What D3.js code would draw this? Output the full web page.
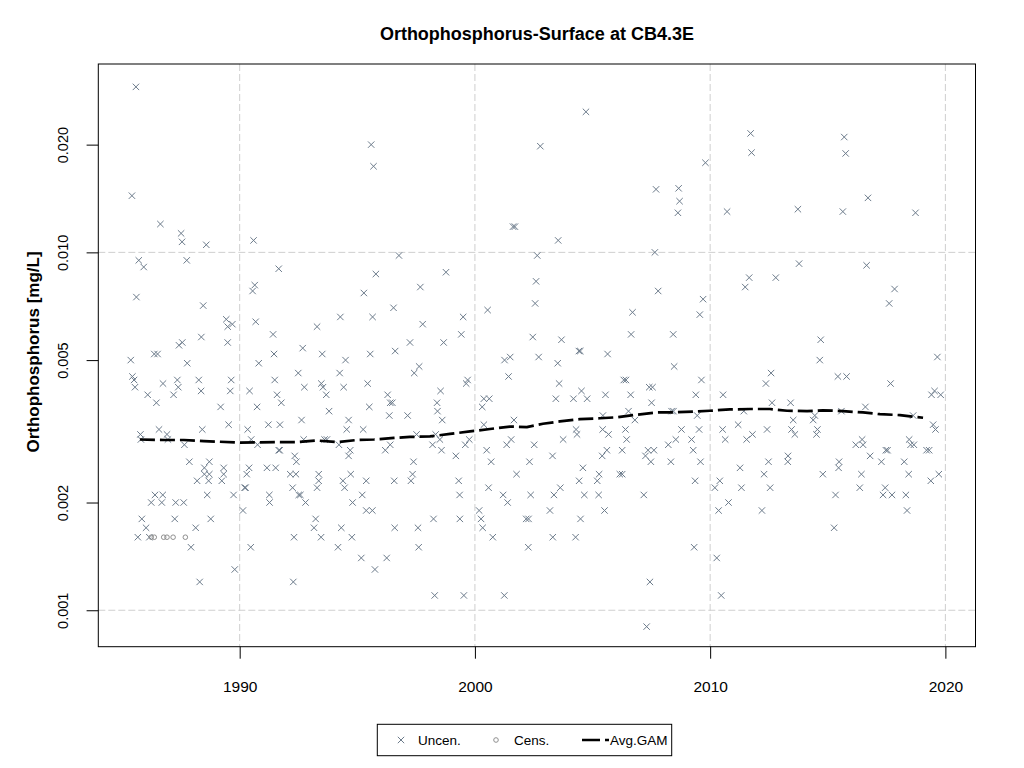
<!DOCTYPE html>
<html>
<head>
<meta charset="utf-8">
<script src="https://cdn.jsdelivr.net/npm/d3@7"></script>
<style>
  body { margin: 0; background: #fff; }
  svg { display: block; font-family: "Liberation Sans", Arial, sans-serif; }
</style>
</head>
<body>
<svg id="chart" width="1024" height="768"></svg>
<script>
// uncensored samples: [decimal year, mg/L]
const uncensored = [
  [1985.59, 0.029], [1995.59, 0.020], [1995.69, 0.0174], [1985.42, 0.0144], [1986.63, 0.012],
  [1987.51, 0.0113], [1987.55, 0.0107], [1988.58, 0.0105], [1990.59, 0.0108], [1985.71, 0.0095],
  [1985.92, 0.0091], [1987.75, 0.0095], [1991.66, 0.0090], [1995.79, 0.0087], [1985.61, 0.0075],
  [1990.64, 0.0081], [1990.55, 0.0078], [1995.28, 0.0077], [1996.54, 0.0070], [1988.45, 0.0071],
  [1989.43, 0.0065], [1989.69, 0.0063], [1989.49, 0.0062], [1990.68, 0.0064], [1994.28, 0.0066],
  [1995.65, 0.0066], [1993.29, 0.0062], [1991.42, 0.0059], [1988.37, 0.0058], [1987.56, 0.0056],
  [1987.42, 0.0055], [1989.49, 0.0056], [1992.68, 0.0054], [1986.37, 0.0052], [1986.51, 0.0052],
  [1991.46, 0.0052], [1993.51, 0.0052], [1995.55, 0.0052], [1985.37, 0.0050], [1994.50, 0.0050],
  [1996.61, 0.0053],
  [1987.77, 0.0049], [1990.81, 0.0049], [1985.44, 0.0045], [1985.51, 0.0044], [1985.55, 0.0042],
  [1986.09, 0.0040], [1986.46, 0.0038], [1986.74, 0.0043], [1987.35, 0.0044], [1987.39, 0.0042],
  [1987.19, 0.0040], [1988.26, 0.0044], [1988.36, 0.0041], [1989.64, 0.0044], [1989.60, 0.0041],
  [1989.19, 0.0037], [1990.42, 0.0041], [1990.74, 0.0037], [1991.49, 0.0044], [1991.59, 0.0040],
  [1991.77, 0.0038], [1992.49, 0.0046], [1992.75, 0.0042], [1993.47, 0.0043], [1993.54, 0.0042],
  [1993.68, 0.0040], [1994.25, 0.0046], [1994.42, 0.0042], [1993.80, 0.0036], [1995.44, 0.0043],
  [1995.51, 0.0037], [1996.29, 0.0040], [1996.40, 0.0038], [1996.49, 0.0038], [1996.36, 0.0035],
  [1992.63, 0.0034], [1994.63, 0.0034], [1994.55, 0.0032], [1995.25, 0.0032], [1991.22, 0.0033],
  [1991.71, 0.0033], [1990.34, 0.0032], [1989.53, 0.0033], [1988.41, 0.0032], [1986.57, 0.0032],
  [1986.91, 0.0031], [1986.95, 0.0030], [1985.78, 0.0031], [1985.80, 0.0030], [1987.65, 0.0029],
  [1990.49, 0.0030], [1990.76, 0.0029], [1991.66, 0.0028], [1991.70, 0.0028], [1992.72, 0.0030],
  [1993.61, 0.0030], [1993.71, 0.0030], [1994.22, 0.0029], [1994.70, 0.0028], [1994.63, 0.0027],
  [1992.34, 0.0027], [1992.41, 0.0026], [1996.19, 0.0028], [1996.40, 0.0029], [1987.86, 0.0026],
  [1988.71, 0.0026], [1988.50, 0.0025], [1989.32, 0.0025], [1991.16, 0.0025], [1991.53, 0.0025],
  [1990.40, 0.0025], [1990.30, 0.0024], [1988.50, 0.0024], [1988.71, 0.0024], [1989.32, 0.0024],
  [1992.15, 0.0024], [1992.39, 0.0024], [1993.36, 0.0024], [1994.72, 0.0024], [1988.19, 0.0023],
  [1988.68, 0.0023], [1989.24, 0.0023], [1993.36, 0.0023], [1994.39, 0.0023], [1995.38, 0.0023],
  [1996.57, 0.0023], [1990.21, 0.0022], [1990.25, 0.0022], [1992.25, 0.0022], [1993.29, 0.0022],
  [1994.46, 0.0022], [1986.40, 0.0021], [1986.73, 0.0021], [1988.62, 0.0021], [1989.74, 0.0021],
  [1991.26, 0.0021], [1992.51, 0.0021], [1992.58, 0.0021], [1995.21, 0.0021], [1986.24, 0.0020],
  [1986.69, 0.0020], [1987.28, 0.0020], [1987.62, 0.0020], [1991.27, 0.0020], [1992.80, 0.0020],
  [1994.80, 0.0020], [1990.14, 0.0019], [1995.38, 0.0019], [1995.64, 0.0019], [1985.84, 0.0018],
  [1987.24, 0.0018], [1988.77, 0.0018], [1993.23, 0.0018], [1986.02, 0.0017], [1988.13, 0.0017],
  [1993.16, 0.0017], [1994.32, 0.0017], [1996.59, 0.0017], [1985.67, 0.0016], [1986.16, 0.0016],
  [1992.31, 0.0016], [1993.46, 0.0016], [1994.77, 0.0016], [1987.93, 0.0015], [1990.47, 0.0015],
  [1994.18, 0.0015], [1995.17, 0.0014], [1996.25, 0.0014], [1995.75, 0.0013], [1989.79, 0.0013],
  [1988.30, 0.0012], [1992.28, 0.0012],
  [1996.77, 0.0098], [2004.72, 0.0247], [2002.78, 0.0198], [2007.70, 0.0150], [2001.62, 0.0118],
  [2001.70, 0.0118], [2003.54, 0.0108], [2007.65, 0.0100], [2002.65, 0.0098], [1998.77, 0.0088],
  [1997.68, 0.0080], [2002.60, 0.0083], [2002.56, 0.0072], [2000.54, 0.0069], [2007.79, 0.0078],
  [2006.70, 0.0068], [2006.64, 0.0059], [1999.50, 0.0066], [1997.78, 0.0063], [1999.42, 0.0059],
  [1997.24, 0.0056], [1998.67, 0.0056], [2002.46, 0.0058], [2003.68, 0.0057], [2004.42, 0.0053],
  [2004.48, 0.0053], [2005.64, 0.0052], [2002.71, 0.0051], [2001.26, 0.0050], [2001.50, 0.0051],
  [2003.52, 0.0049], [1997.63, 0.0048], [1997.42, 0.0046], [1999.69, 0.0044], [1999.63, 0.0043],
  [2001.43, 0.0045], [2003.58, 0.0043], [1998.54, 0.0041], [1997.14, 0.0035], [1998.39, 0.0038],
  [1998.41, 0.0036], [1998.61, 0.0034], [2000.38, 0.0039], [2000.61, 0.0039], [2000.31, 0.0037],
  [2003.44, 0.0039], [2004.19, 0.0039], [2004.77, 0.0039], [2004.53, 0.0041], [2005.55, 0.0040],
  [2006.33, 0.0044], [2006.42, 0.0044], [2006.62, 0.0040], [2007.41, 0.0042], [2007.55, 0.0042],
  [2007.51, 0.0038], [2006.53, 0.0036], [2006.80, 0.0034], [2005.44, 0.0035], [2001.66, 0.0034],
  [2000.38, 0.0033], [1997.52, 0.0031], [1998.33, 0.0031], [1998.51, 0.0030], [1998.20, 0.0029],
  [1998.58, 0.0028], [1999.76, 0.0030], [1999.59, 0.0029], [1999.19, 0.0027], [1997.39, 0.0026],
  [1997.35, 0.0024], [1997.28, 0.0023], [1999.31, 0.0023], [1999.35, 0.0021], [1998.24, 0.0018],
  [1999.36, 0.0018], [1997.58, 0.0017], [1997.61, 0.0015], [1998.29, 0.0011], [1999.53, 0.0011],
  [2001.25, 0.0011], [2000.50, 0.0028], [2000.69, 0.0026], [2001.35, 0.0029], [2001.54, 0.0030],
  [2002.52, 0.0029], [2002.32, 0.0026], [2001.77, 0.0024], [2003.30, 0.0027], [2003.75, 0.0030],
  [2004.30, 0.0032], [2004.34, 0.0031], [2005.43, 0.0032], [2005.68, 0.0031], [2006.40, 0.0032],
  [2006.45, 0.0030], [2005.41, 0.0027], [2005.61, 0.0028], [2006.26, 0.0028], [2007.25, 0.0027],
  [2007.36, 0.0028], [2007.61, 0.0028], [2007.48, 0.0026], [2008.22, 0.0029], [2004.59, 0.0025],
  [2005.28, 0.0024], [2005.20, 0.0023], [2004.43, 0.0023], [2006.16, 0.0024], [2006.26, 0.0024],
  [2000.58, 0.0022], [2001.20, 0.0021], [2001.39, 0.0020], [2002.37, 0.0021], [2003.36, 0.0021],
  [2003.63, 0.0022], [2004.65, 0.0021], [2005.26, 0.0021], [2007.18, 0.0021], [2000.18, 0.0019],
  [2000.26, 0.0018], [2000.33, 0.0017], [2000.76, 0.0016], [2003.19, 0.0019], [2002.18, 0.0018],
  [2002.28, 0.0018], [2004.49, 0.0018], [2005.51, 0.0019], [2003.31, 0.0016], [2004.28, 0.0016],
  [2002.27, 0.0015], [2007.44, 0.0012], [2007.30, 0.0009],
  [2011.72, 0.0215], [2011.76, 0.0190], [2015.70, 0.0210], [2015.76, 0.0189], [2009.80, 0.0178],
  [2008.66, 0.0151], [2008.70, 0.0139], [2008.63, 0.0129], [2010.72, 0.0130], [2013.73, 0.0132],
  [2015.64, 0.0130], [2016.71, 0.0142], [2018.73, 0.0129], [2013.78, 0.0093], [2016.65, 0.0092],
  [2011.66, 0.0085], [2012.79, 0.0085], [2011.49, 0.0080], [2017.84, 0.0079], [2017.61, 0.0072],
  [2009.70, 0.0074], [2009.56, 0.0067], [2008.43, 0.0059], [2014.70, 0.0057], [2014.66, 0.0050],
  [2019.66, 0.0051],
  [2008.47, 0.0048], [2009.63, 0.0044], [2009.39, 0.0040], [2010.55, 0.0040], [2012.59, 0.0046],
  [2012.37, 0.0043], [2015.43, 0.0045], [2015.80, 0.0045], [2017.67, 0.0043], [2012.63, 0.0038],
  [2013.42, 0.0038], [2019.41, 0.0040], [2019.54, 0.0041], [2019.80, 0.0040], [2008.36, 0.0036],
  [2008.44, 0.0036], [2009.45, 0.0035], [2011.43, 0.0036], [2013.53, 0.0034], [2014.38, 0.0034],
  [2014.45, 0.0035], [2015.58, 0.0036], [2016.60, 0.0037], [2018.63, 0.0035], [2019.48, 0.0033],
  [2019.58, 0.0032], [2008.78, 0.0032], [2008.54, 0.0030], [2009.21, 0.0030], [2009.28, 0.0028],
  [2009.53, 0.0032], [2008.33, 0.0026], [2009.59, 0.0026], [2010.53, 0.0032], [2010.64, 0.0030],
  [2011.19, 0.0033], [2011.55, 0.0030], [2011.80, 0.0031], [2012.42, 0.0032], [2013.46, 0.0032],
  [2013.60, 0.0031], [2014.56, 0.0032], [2014.52, 0.0031], [2016.19, 0.0029], [2016.46, 0.0030],
  [2016.50, 0.0029], [2016.80, 0.0027], [2017.47, 0.0028], [2017.54, 0.0028], [2018.46, 0.0030],
  [2018.52, 0.0029], [2018.66, 0.0029], [2019.20, 0.0028], [2019.31, 0.0028], [2012.48, 0.0026],
  [2013.31, 0.0027], [2013.30, 0.0026], [2011.27, 0.0025], [2012.29, 0.0024], [2015.48, 0.0026],
  [2015.46, 0.0025], [2014.79, 0.0024], [2016.43, 0.0024], [2017.28, 0.0026], [2018.25, 0.0026],
  [2018.44, 0.0024], [2019.38, 0.0023], [2019.72, 0.0024], [2009.36, 0.0023], [2010.20, 0.0022],
  [2010.41, 0.0023], [2011.33, 0.0022], [2012.55, 0.0022], [2016.36, 0.0022], [2017.44, 0.0022],
  [2017.35, 0.0021], [2017.73, 0.0021], [2018.32, 0.0021], [2015.33, 0.0021], [2010.36, 0.0019],
  [2010.78, 0.0020], [2012.20, 0.0019], [2018.37, 0.0019], [2015.27, 0.0017], [2009.32, 0.0015],
  [2010.28, 0.0014], [2010.47, 0.0011]
];

// censored samples (below detection limit)
const censored = [
  [1986.24, 0.0016], [1986.37, 0.0016], [1986.77, 0.0016], [1986.91, 0.0016], [1987.17, 0.0016], [1987.69, 0.0016]
];

// averaged GAM fit
const gamYears = [1985.76, 1986.78, 1987.63, 1988.48, 1990.01, 1991.59, 1992.44, 1993.29, 1994.14, 1994.99,
  1995.71, 1996.56, 1997.24, 1998.09, 1998.94, 1999.79, 2000.64, 2001.49, 2002.21, 2002.89,
  2003.61, 2004.46, 2005.31, 2006.04, 2006.89, 2007.74, 2008.29, 2009.27, 2009.99, 2010.84,
  2011.69, 2012.54, 2013.27, 2014.12, 2014.80, 2015.65, 2016.50, 2017.22, 2018.07, 2019.05];
const gamValues = [0.00300, 0.00299, 0.00299, 0.00297, 0.00294, 0.00295, 0.00295, 0.00298, 0.00295, 0.00299,
  0.00300, 0.00303, 0.00305, 0.00306, 0.00311, 0.00316, 0.00321, 0.00326, 0.00325, 0.00332,
  0.00337, 0.00342, 0.00344, 0.00346, 0.00352, 0.00357, 0.00357, 0.00359, 0.00361, 0.00364,
  0.00365, 0.00365, 0.00361, 0.00360, 0.00362, 0.00360, 0.00357, 0.00353, 0.00351, 0.00345];

const xTicks = [1990, 2000, 2010, 2020];
const yTicks = [0.001, 0.002, 0.005, 0.010, 0.020];
const xGrid = [1990, 2000, 2010, 2020];
const yGrid = [0.001, 0.010];

const svg = d3.select("#chart");
const plot = { left: 98.3, right: 975.5, top: 64, bottom: 646.7 };

const x = d3.scaleLinear().domain([1983.99, 2021.28]).range([plot.left, plot.right]);
const y = d3.scaleLog().domain([0.000791, 0.0336]).range([plot.bottom, plot.top]);

const ptColor = "#6c7b8b";
const gridColor = "#cfcfcf";

// grid
svg.append("g").selectAll("line").data(xGrid).join("line")
  .attr("x1", d => x(d)).attr("x2", d => x(d))
  .attr("y1", plot.top).attr("y2", plot.bottom)
  .attr("stroke", gridColor).attr("stroke-dasharray", "7,3");
svg.append("g").selectAll("line").data(yGrid).join("line")
  .attr("x1", plot.left).attr("x2", plot.right)
  .attr("y1", d => y(d)).attr("y2", d => y(d))
  .attr("stroke", gridColor).attr("stroke-dasharray", "7,3");

// uncensored crosses
const s = 3.2;
svg.append("g").selectAll("path").data(uncensored).join("path")
  .attr("d", d => {
    const px = x(d[0]), py = y(d[1]);
    return `M${px - s},${py - s}L${px + s},${py + s}M${px - s},${py + s}L${px + s},${py - s}`;
  })
  .attr("stroke", ptColor).attr("stroke-width", 1).attr("fill", "none");

// censored circles
svg.append("g").selectAll("circle").data(censored).join("circle")
  .attr("cx", d => x(d[0])).attr("cy", d => y(d[1])).attr("r", 2.3)
  .attr("fill", "none").attr("stroke", "#8f8f8f").attr("stroke-width", 1);

// GAM line
const line = d3.line().x((d, i) => x(gamYears[i])).y(d => y(d));
svg.append("path").datum(gamValues)
  .attr("d", line)
  .attr("fill", "none").attr("stroke", "#000").attr("stroke-width", 2.7)
  .attr("stroke-dasharray", "15,5");

// axes
const xAxis = svg.append("g")
  .attr("transform", `translate(0,${plot.bottom})`)
  .call(d3.axisBottom(x).tickValues(xTicks).tickFormat(d3.format("d")).tickSize(12).tickSizeOuter(0));
xAxis.select(".domain").remove();
xAxis.selectAll("text").attr("y", 45.3).attr("dy", 0)
  .attr("font-size", "15.5px").attr("fill", "#000")
  .attr("font-family", '"Liberation Sans", Arial, sans-serif');

const yAxis = svg.append("g")
  .attr("transform", `translate(${plot.left},0)`)
  .call(d3.axisLeft(y).tickValues(yTicks).tickFormat(d3.format(".3f")).tickSize(11.7).tickSizeOuter(0));
yAxis.select(".domain").remove();
yAxis.selectAll("text")
  .attr("transform", "rotate(-90)")
  .attr("x", 0).attr("y", -30.6).attr("dy", 0)
  .attr("text-anchor", "middle")
  .attr("font-size", "14.5px").attr("fill", "#000")
  .attr("font-family", '"Liberation Sans", Arial, sans-serif');

// box
svg.append("rect")
  .attr("x", plot.left).attr("y", plot.top)
  .attr("width", plot.right - plot.left).attr("height", plot.bottom - plot.top)
  .attr("fill", "none").attr("stroke", "#000").attr("stroke-width", 1);

// title + y label
svg.append("text")
  .attr("x", (plot.left + plot.right) / 2).attr("y", 40)
  .attr("text-anchor", "middle").attr("font-weight", "bold").attr("font-size", "18px")
  .text("Orthophosphorus-Surface at CB4.3E");

svg.append("text")
  .attr("transform", `translate(38.5,352) rotate(-90)`)
  .attr("text-anchor", "middle").attr("font-weight", "bold").attr("font-size", "17px")
  .text("Orthophosphorus [mg/L]");

// legend
const lg = svg.append("g");
lg.append("rect").attr("x", 377.3).attr("y", 724.3).attr("width", 294.4).attr("height", 31.4)
  .attr("fill", "#fff").attr("stroke", "#000").attr("stroke-width", 1);
const ly = 740;
lg.append("path")
  .attr("d", `M${401 - s},${ly - s}L${401 + s},${ly + s}M${401 - s},${ly + s}L${401 + s},${ly - s}`)
  .attr("stroke", ptColor).attr("stroke-width", 1);
lg.append("circle").attr("cx", 496).attr("cy", ly).attr("r", 2.3)
  .attr("fill", "none").attr("stroke", "#8f8f8f");
lg.append("line").attr("x1", 582).attr("x2", 609).attr("y1", ly).attr("y2", ly)
  .attr("stroke", "#000").attr("stroke-width", 2.7).attr("stroke-dasharray", "18,5");
const legendItems = [["Uncen.", 418], ["Cens.", 514], ["Avg.GAM", 610]];
lg.selectAll("text.lab").data(legendItems).join("text")
  .attr("class", "lab")
  .attr("x", d => d[1]).attr("y", ly + 5)
  .attr("font-size", "13.5px")
  .text(d => d[0]);
</script>
</body>
</html>
